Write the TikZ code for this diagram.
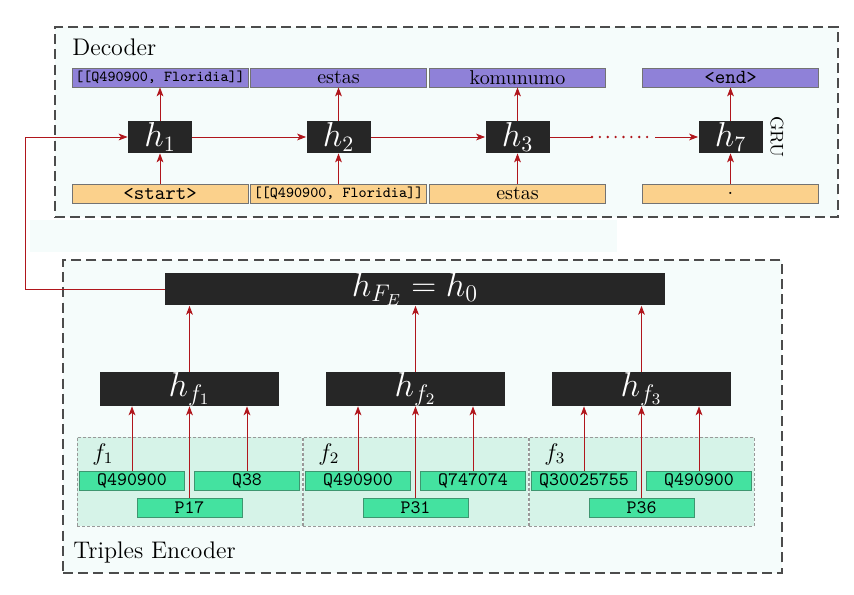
\documentclass[tikz,border=0pt]{standalone}
\usetikzlibrary{arrows.meta}
\definecolor{bgc}{RGB}{245,252,251}
\definecolor{purp}{RGB}{143,129,216}
\definecolor{orng}{RGB}{251,209,140}
\definecolor{grn}{RGB}{68,226,160}
\definecolor{grnb}{RGB}{62,150,112}
\definecolor{factc}{RGB}{214,243,232}
\definecolor{darkc}{RGB}{38,38,38}
\definecolor{arr}{RGB}{176,22,28}
\begin{document}
\begin{tikzpicture}[x=0.5pt,y=-0.5pt,
  cont/.style={draw=black!70, line width=0.75pt, dash pattern=on 5pt off 2.6pt, fill=bgc, inner sep=0pt, rectangle},
  tokout/.style={draw=black!55, line width=0.4pt, fill=purp, minimum width=88pt, minimum height=9.5pt, inner sep=0pt, font=\fontsize{10}{10}\selectfont},
  tokin/.style={tokout, fill=orng},
  small/.style={font=\ttfamily\fontsize{7.6}{7.6}\selectfont},
  ttok/.style={font=\ttfamily\fontsize{10}{10}\selectfont},
  hid/.style={fill=darkc, text=white, minimum width=32pt, minimum height=16pt, inner sep=0pt, font=\fontsize{16}{16}\selectfont},
  encn/.style={fill=darkc, text=white, minimum height=16pt, inner sep=0pt, font=\fontsize{17}{17}\selectfont},
  fact/.style={draw=black!40, line width=0.4pt, dash pattern=on 1.5pt off 1pt, fill=factc, minimum width=112.5pt, minimum height=44.5pt, inner sep=0pt},
  ent/.style={fill=grn, draw=grnb, line width=0.5pt, minimum width=52.5pt, minimum height=9.5pt, inner sep=0pt, font=\ttfamily\fontsize{9.5}{9.5}\selectfont},
  lbl/.style={anchor=west, inner sep=0pt, font=\fontsize{12}{12}\selectfont},
  link/.style={draw=arr, line width=0.5pt, -{Stealth[length=4.5pt,width=3.4pt,inset=1.2pt]}},
  plain/.style={draw=arr, line width=0.5pt},
  dots/.style={draw=arr, line width=1.3pt, line cap=round, dash pattern=on 0pt off 3.94pt}
]
\path[use as bounding box] (0,0) rectangle (854,594);
\fill[bgc] (30,220) rectangle (617,252);

% ---------------- Decoder ----------------
\node[cont, minimum width=391.5pt, minimum height=95pt] (dec) at (446.5,122) {};
\node[lbl] (declab) at (72,47) {Decoder};

\node[tokout] (o1) at (160,77.5) {\ttfamily\fontsize{7.6}{7.6}\selectfont [[Q490900, Floridia]]};
\node[tokout] (o2) at (338.5,77.5) {estas};
\node[tokout] (o3) at (517.5,77.5) {komunumo};
\node[tokout, ttok] (o7) at (730.5,77.5) {<end>};

\node[hid] (h1) at (160,137) {$h_1$};
\node[hid] (h2) at (338.5,137) {$h_2$};
\node[hid] (h3) at (517.5,137) {$h_3$};
\node[hid] (h7) at (730.5,137) {$h_7$};
\node[rotate=-90, inner sep=0pt, font=\fontsize{9}{9}\selectfont] (gru) at (777,137) {GRU};

\node[tokin, ttok] (i1) at (160,193.5) {<start>};
\node[tokin] (i2) at (338.5,193.5) {\ttfamily\fontsize{7.6}{7.6}\selectfont [[Q490900, Floridia]]};
\node[tokin] (i3) at (517.5,193.5) {estas};
\node[tokin] (i7) at (730.5,193.5) {.};

% ---------------- Encoder ----------------
\node[cont, minimum width=359.5pt, minimum height=156.5pt] (encbox) at (422.5,416.5) {};
\node[lbl] (enclab) at (73,552) {Triples Encoder};

\node[encn, minimum width=250pt] (hfe) at (415,289) {$h_{F_E} = h_0$};
\node[encn, minimum width=89.5pt] (hf1) at (189.5,389) {$h_{f_1}$};
\node[encn, minimum width=89.5pt] (hf2) at (415.5,389) {$h_{f_2}$};
\node[encn, minimum width=89.5pt] (hf3) at (641.5,389) {$h_{f_3}$};

\node[fact] (F1) at (189.5,481.5) {};
\node[fact] (F2) at (415.5,481.5) {};
\node[fact] (F3) at (641.5,481.5) {};
\node[lbl] (fl1) at (92,454) {$f_1$};
\node[lbl] (fl2) at (318,454) {$f_2$};
\node[lbl] (fl3) at (544,454) {$f_3$};

\node[ent] (e1a) at (132,480.5) {Q490900};
\node[ent] (e1b) at (247,480.5) {Q38};
\node[ent] (e1p) at (189.5,507.5) {P17};
\node[ent] (e2a) at (358,480.5) {Q490900};
\node[ent] (e2b) at (473,480.5) {Q747074};
\node[ent] (e2p) at (415.5,507.5) {P31};
\node[ent] (e3a) at (584,480.5) {Q30025755};
\node[ent] (e3b) at (699,480.5) {Q490900};
\node[ent] (e3p) at (641.5,507.5) {P36};

% ---------------- connectors ----------------
\foreach \c in {1,2,3,7}{
  \draw[link] (i\c) -- (h\c);
  \draw[link] (h\c) -- (o\c);
}
\draw[link] (h1) -- (h2);
\draw[link] (h2) -- (h3);
\coordinate (d1) at (592,137);
\coordinate (d2) at (655,137);
\draw[plain] (h3.east) -- (d1);
\draw[dots] (d1) -- (d2);
\draw[link] (d2) -- (h7.west);

\coordinate (fb1) at (25,289);
\coordinate (fb2) at (25,137);
\draw[link, line width=0.4pt] (hfe.west) -- (fb1) -- (fb2) -- (h1.west);

\foreach \k in {1,2,3}{
  \draw[link] (e\k a.north) -- (e\k a.north |- hf\k.south);
  \draw[link] (e\k b.north) -- (e\k b.north |- hf\k.south);
  \draw[link] (e\k p.north) -- (e\k p.north |- hf\k.south);
  \draw[link] (hf\k.north) -- (hf\k.north |- hfe.south);
}
\end{tikzpicture}
\end{document}
